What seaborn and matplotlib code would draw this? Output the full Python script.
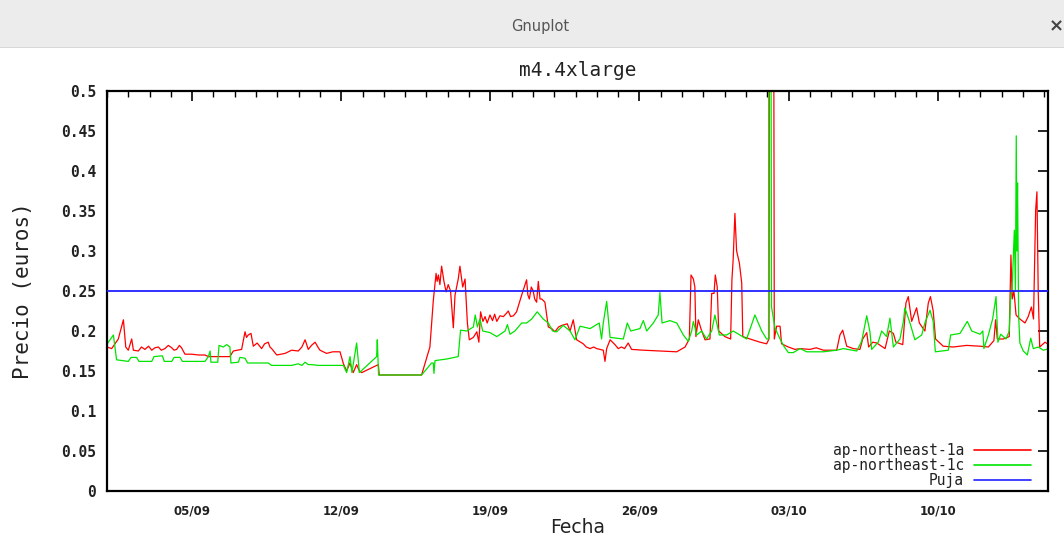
import numpy as np
import pandas as pd
import matplotlib
matplotlib.use("Agg")
import matplotlib.pyplot as plt
import matplotlib.dates as mdates
import matplotlib.ticker as mticker
from matplotlib.patches import Rectangle
from matplotlib.lines import Line2D
import seaborn as sns

# Spot price history for m4.4xlarge, time in days since the start date
INICIO = pd.Timestamp("2016-09-01 00:00")
FIN_DIAS = 44.18

zonas = ["ap-northeast-1a", "ap-northeast-1c"]

dias_1a = [
    0.00, 0.22, 0.53, 0.77, 0.88, 1.00, 1.16, 1.24, 1.47, 1.62, 1.78, 1.95, 2.10, 2.25,
    2.41, 2.55, 2.72, 2.88, 3.04, 3.15, 3.27, 3.40, 3.50, 3.66, 3.97, 4.30, 4.60, 4.76,
    5.77, 5.93, 6.32, 6.48, 6.55, 6.63, 6.76, 6.87, 7.05, 7.26, 7.40, 7.57, 7.65, 7.73,
    7.97, 8.36, 8.67, 8.98, 9.15, 9.30, 9.45, 9.60, 9.77, 9.90, 10.00, 10.31, 10.60, 10.94,
    11.10, 11.25, 11.41, 11.56, 11.72, 11.85, 11.96, 12.74, 12.78, 14.77, 15.16, 15.32,
    15.45, 15.50, 15.56, 15.63, 15.71, 15.82, 15.92, 16.02, 16.13, 16.26, 16.34, 16.49,
    16.57, 16.70, 16.81, 16.92, 17.01, 17.20, 17.36, 17.46, 17.54, 17.65, 17.75, 17.85,
    17.98, 18.10, 18.20, 18.30, 18.45, 18.61, 18.75, 18.84, 18.95, 19.08, 19.23, 19.47,
    19.70, 19.76, 19.83, 19.92, 20.01, 20.08, 20.17, 20.25, 20.33, 20.41, 20.56, 20.72,
    20.88, 21.03, 21.20, 21.35, 21.61, 21.74, 21.89, 22.05, 22.36, 22.50, 22.68, 22.85,
    22.99, 23.30, 23.38, 23.46, 23.62, 23.85, 24.00, 24.16, 24.30, 24.47, 24.63, 25.18,
    25.96, 26.75, 27.14, 27.34, 27.42, 27.53, 27.60, 27.65, 27.76, 27.92, 28.08, 28.31,
    28.39, 28.50, 28.56, 28.65, 28.72, 29.01, 29.28, 29.34, 29.40, 29.48, 29.56, 29.69,
    29.80, 29.85, 30.19, 30.66, 30.97, 31.08, 31.11, 31.28, 31.33, 31.44, 31.60, 31.67,
    31.99, 32.30, 32.54, 33.00, 33.30, 33.63, 34.26, 34.41, 34.54, 34.73, 35.04, 35.35,
    35.48, 35.67, 35.76, 35.95, 36.14, 36.53, 36.73, 36.92, 37.04, 37.36, 37.51, 37.62,
    37.78, 37.89, 38.01, 38.14, 38.40, 38.56, 38.66, 38.79, 38.90, 39.26, 39.73, 40.36,
    40.99, 41.38, 41.64, 41.72, 41.80, 42.08, 42.36, 42.44, 42.50, 42.58, 42.68, 42.86,
    43.10, 43.25, 43.40, 43.50, 43.60, 43.66, 43.72, 43.79, 44.04, 44.27,
]
precio_1a = [
    0.180, 0.178, 0.190, 0.214, 0.180, 0.176, 0.190, 0.176, 0.175, 0.180, 0.177, 0.181, 0.176, 0.179,
    0.180, 0.176, 0.178, 0.182, 0.179, 0.176, 0.177, 0.182, 0.179, 0.171, 0.171, 0.170, 0.170, 0.168,
    0.168, 0.175, 0.177, 0.199, 0.192, 0.195, 0.197, 0.181, 0.185, 0.178, 0.184, 0.186, 0.180, 0.178,
    0.170, 0.172, 0.176, 0.175, 0.180, 0.189, 0.177, 0.182, 0.186, 0.180, 0.176, 0.172, 0.174, 0.174,
    0.159, 0.150, 0.160, 0.148, 0.158, 0.150, 0.148, 0.158, 0.145, 0.145, 0.180, 0.238,
    0.272, 0.262, 0.270, 0.258, 0.281, 0.262, 0.249, 0.258, 0.250, 0.204, 0.245, 0.265,
    0.281, 0.255, 0.265, 0.210, 0.189, 0.192, 0.199, 0.186, 0.224, 0.212, 0.218, 0.210,
    0.220, 0.213, 0.221, 0.212, 0.219, 0.218, 0.222, 0.225, 0.218, 0.219, 0.224, 0.245,
    0.264, 0.245, 0.240, 0.255, 0.250, 0.240, 0.236, 0.262, 0.240, 0.240, 0.236, 0.205,
    0.203, 0.199, 0.205, 0.207, 0.209, 0.200, 0.214, 0.189, 0.184, 0.180, 0.178, 0.180,
    0.178, 0.176, 0.162, 0.178, 0.189, 0.183, 0.178, 0.180, 0.178, 0.185, 0.177, 0.176,
    0.175, 0.174, 0.180, 0.190, 0.270, 0.265, 0.255, 0.193, 0.214, 0.200, 0.189, 0.190,
    0.247, 0.247, 0.270, 0.255, 0.200, 0.193, 0.190, 0.264, 0.290, 0.347, 0.300, 0.285,
    0.260, 0.193, 0.190, 0.186, 0.184, 0.190, 0.950, 0.950, 0.190, 0.206, 0.206, 0.184,
    0.180, 0.177, 0.178, 0.177, 0.179, 0.176, 0.176, 0.195, 0.201, 0.181, 0.178, 0.177,
    0.190, 0.198, 0.180, 0.186, 0.185, 0.178, 0.200, 0.197, 0.186, 0.183, 0.235, 0.243,
    0.212, 0.220, 0.229, 0.210, 0.200, 0.235, 0.243, 0.225, 0.190, 0.181, 0.180, 0.182,
    0.181, 0.180, 0.188, 0.214, 0.190, 0.190, 0.193, 0.295, 0.240, 0.250, 0.220, 0.215,
    0.210, 0.218, 0.230, 0.215, 0.351, 0.374, 0.250, 0.180, 0.186, 0.182,
]

dias_1c = [
    0.00, 0.06, 0.30, 0.45, 1.00, 1.13, 1.39, 1.50, 2.10, 2.21, 2.60, 2.69, 3.04, 3.15,
    3.43, 3.54, 4.60, 4.76, 4.84, 4.88, 5.20, 5.26, 5.46, 5.62, 5.77, 5.82, 6.17, 6.24,
    6.48, 6.60, 7.57, 7.73, 8.67, 8.98, 9.15, 9.30, 9.45, 9.61, 9.92, 10.86, 11.10, 11.25,
    11.41, 11.50, 11.72, 11.85, 12.66, 12.69, 12.75, 14.77, 15.24, 15.32, 15.35, 15.40,
    15.95, 16.49, 16.60, 16.89, 17.20, 17.29, 17.39, 17.51, 17.64, 17.98, 18.30, 18.69,
    18.80, 18.92, 19.15, 19.47, 19.70, 19.94, 20.20, 20.48, 20.72, 20.92, 21.11, 21.42,
    21.74, 21.97, 22.21, 22.68, 23.11, 23.22, 23.30, 23.46, 23.62, 24.24, 24.43, 24.59,
    25.02, 25.18, 25.34, 25.65, 25.88, 25.96, 26.06, 26.43, 26.75, 27.06, 27.29, 27.45,
    27.53, 27.69, 27.92, 28.15, 28.39, 28.54, 28.75, 29.09, 29.40, 29.72, 30.03, 30.42,
    30.58, 30.74, 30.97, 31.06, 31.08, 31.15, 31.20, 31.36, 31.60, 31.78, 31.99, 32.22,
    32.54, 32.85, 33.63, 34.26, 34.57, 35.20, 35.43, 35.67, 35.82, 35.90, 36.21, 36.37,
    36.60, 36.76, 36.92, 37.23, 37.39, 37.46, 37.70, 37.93, 38.25, 38.40, 38.64, 38.79,
    38.89, 39.50, 39.61, 40.05, 40.39, 40.60, 40.99, 41.12, 41.17, 41.38, 41.58, 41.74,
    41.83, 41.96, 42.21, 42.36, 42.42, 42.49, 42.60, 42.65, 42.69, 42.72, 42.75, 42.80,
    42.86, 43.02, 43.21, 43.37, 43.49, 43.72, 43.96, 44.24,
]
precio_1c = [
    0.183, 0.186, 0.195, 0.164, 0.162, 0.167, 0.167, 0.162, 0.162, 0.168, 0.169, 0.162, 0.162, 0.167,
    0.167, 0.162, 0.162, 0.168, 0.175, 0.161, 0.161, 0.182, 0.180, 0.183, 0.180, 0.160, 0.161, 0.167,
    0.166, 0.160, 0.160, 0.157, 0.157, 0.159, 0.157, 0.161, 0.158, 0.158, 0.157, 0.157, 0.157, 0.148,
    0.168, 0.148, 0.185, 0.148, 0.168, 0.189, 0.145, 0.145, 0.160, 0.160, 0.147, 0.163,
    0.165, 0.168, 0.201, 0.200, 0.205, 0.220, 0.205, 0.215, 0.200, 0.198, 0.193, 0.200,
    0.208, 0.196, 0.200, 0.210, 0.210, 0.215, 0.224, 0.215, 0.210, 0.200, 0.199, 0.207,
    0.200, 0.189, 0.206, 0.203, 0.210, 0.190, 0.210, 0.237, 0.192, 0.190, 0.210, 0.200,
    0.203, 0.213, 0.200, 0.210, 0.220, 0.248, 0.210, 0.213, 0.210, 0.195, 0.187, 0.200,
    0.212, 0.195, 0.200, 0.190, 0.200, 0.220, 0.195, 0.195, 0.200, 0.195, 0.190, 0.220,
    0.210, 0.200, 0.190, 0.190, 0.950, 0.950, 0.230, 0.204, 0.190, 0.181, 0.173, 0.173,
    0.178, 0.174, 0.174, 0.176, 0.178, 0.175, 0.187, 0.219, 0.199, 0.177, 0.186, 0.200,
    0.193, 0.216, 0.180, 0.190, 0.212, 0.229, 0.210, 0.189, 0.195, 0.210, 0.226, 0.212,
    0.174, 0.176, 0.195, 0.197, 0.212, 0.200, 0.196, 0.200, 0.178, 0.195, 0.215, 0.243,
    0.186, 0.196, 0.190, 0.200, 0.240, 0.250, 0.326, 0.250, 0.444, 0.300, 0.385, 0.220,
    0.185, 0.175, 0.170, 0.191, 0.178, 0.180, 0.176, 0.178,
]

PUJA = 0.25
etiqueta_puja = "Puja"

colores = {"ap-northeast-1a": "#ff0000", "ap-northeast-1c": "#00e400"}
color_puja = "#2020ff"

y_ticks = [0, 0.05, 0.1, 0.15, 0.2, 0.25, 0.3, 0.35, 0.4, 0.45, 0.5]

# Long-form table for seaborn
df = pd.concat([
    pd.DataFrame({"dias": dias_1a, "precio": precio_1a, "zona": zonas[0]}),
    pd.DataFrame({"dias": dias_1c, "precio": precio_1c, "zona": zonas[1]}),
], ignore_index=True)
df["fecha"] = INICIO + pd.to_timedelta(df["dias"], unit="D")

sns.set_style("white")
plt.rcParams["font.family"] = ["DejaVu Sans"]

fig = plt.figure(figsize=(10.64, 5.38), dpi=100)

# Window title bar
fig.patches.append(Rectangle((0, 1 - 47 / 538), 1, 47 / 538, transform=fig.transFigure,
                             facecolor="#ececec", edgecolor="none", zorder=0))
fig.patches.append(Rectangle((0, 1 - 48 / 538), 1, 1 / 538, transform=fig.transFigure,
                             facecolor="#d8d8d8", edgecolor="none", zorder=0))
fig.text(540 / 1064, 1 - 26 / 538, "Gnuplot", ha="center", va="center",
         fontsize=10.5, color="#555555", family="DejaVu Sans")
fig.text(1056 / 1064, 1 - 26 / 538, "×", ha="center", va="center",
         fontsize=13, color="#444444", fontweight="bold", family="DejaVu Sans")

ax = fig.add_axes([107 / 1064, 1 - 491 / 538, 941 / 1064, 400 / 538])

sns.lineplot(data=df, x="fecha", y="precio", hue="zona", palette=colores,
             hue_order=zonas, estimator=None, sort=False, linewidth=0.9,
             legend=False, ax=ax)
ax.axhline(PUJA, color=color_puja, linewidth=1.3, zorder=3)

ax.set_xlim(INICIO, INICIO + pd.Timedelta(days=FIN_DIAS))
ax.set_ylim(0, 0.5)
ax.set_yticks(y_ticks)
ax.yaxis.set_major_formatter(mticker.FormatStrFormatter("%g"))

ax.xaxis.set_major_locator(mdates.WeekdayLocator(byweekday=mdates.MO))
ax.xaxis.set_minor_locator(mdates.DayLocator())
ax.xaxis.set_major_formatter(mdates.DateFormatter("%d/%m"))

for s in ax.spines.values():
    s.set_visible(True)
    s.set_color("black")
    s.set_linewidth(1.6)

ax.tick_params(axis="both", which="both", direction="in", top=True, right=True,
               color="black")
ax.tick_params(axis="both", which="major", length=7, width=1.2)
ax.tick_params(axis="x", which="minor", length=4, width=1.0)
ax.tick_params(axis="y", pad=8)
ax.tick_params(axis="x", pad=10)

for lab in ax.get_yticklabels():
    lab.set_family("DejaVu Sans Mono")
    lab.set_fontweight("bold")
    lab.set_fontsize(10.5)
    lab.set_color("#222222")
for lab in ax.get_xticklabels():
    lab.set_family("DejaVu Sans")
    lab.set_fontweight("bold")
    lab.set_fontsize(8.5)
    lab.set_color("#222222")

ax.set_title("m4.4xlarge", family="DejaVu Sans Mono", fontsize=14, pad=11,
             color="#222222")
ax.set_xlabel("Fecha", family="DejaVu Sans", fontsize=13.5, color="#222222", labelpad=0)
ax.set_ylabel("Precio (euros)", family="DejaVu Sans Mono", fontsize=15,
              color="#222222", labelpad=20)

handles = [Line2D([], [], color=colores[z], linewidth=1.2) for z in zonas]
handles.append(Line2D([], [], color=color_puja, linewidth=1.2))
leg = ax.legend(handles, zonas + [etiqueta_puja], loc="lower right", frameon=False,
                markerfirst=False, handlelength=3.9, handletextpad=0.7,
                labelspacing=0.0, borderaxespad=0.0, borderpad=0.0,
                bbox_to_anchor=(1 - 17 / 941, 3 / 400),
                prop={"family": "DejaVu Sans Mono", "size": 10.5})
for t in leg.get_texts():
    t.set_color("#222222")

fig.savefig("out.png", dpi=100, facecolor="white")
